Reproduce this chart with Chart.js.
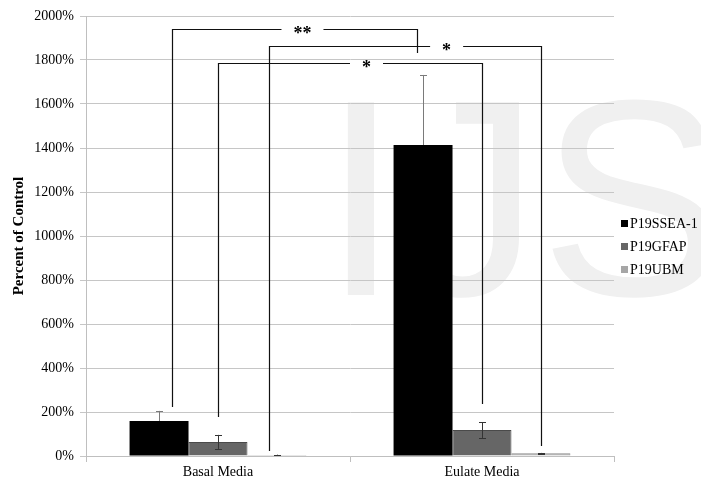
<!DOCTYPE html>
<html>
<head>
<meta charset="utf-8">
<script src="https://cdn.jsdelivr.net/npm/chart.js@4/dist/chart.umd.min.js"></script>
<style>
html,body{margin:0;padding:0;background:#fff;}
#wrap{width:701px;height:483px;position:relative;}
</style>
</head>
<body>
<div id="wrap"><canvas id="c" width="701" height="483"></canvas></div>
<script>
// ---- data ----
const categories = ['Basal Media', 'Eulate Media'];
const seriesNames = ['P19SSEA-1', 'P19GFAP', 'P19UBM'];
const ssea1 = [159, 1414];
const gfap = [64, 118];
const ubm = [5, 12];
const ssea1Err = [46, 318];
const gfapErr = [32, 36];
const ubmErr = [1, 2];
const yTicks = [0, 200, 400, 600, 800, 1000, 1200, 1400, 1600, 1800, 2000];
// significance brackets: x in category units, y in percent
const bracketLabels = ['**', '*', '*'];
const bracketX1 = [-0.175, 0.195, 0.0];
const bracketX2 = [0.755, 1.222, 1.0];
const bracketTop = [1941, 1864, 1786];
const bracketBottom1 = [223, 23, 177];
const bracketBottom2 = [1832, 45, 236];
const bracketLabelX = [0.32, 0.866, 0.5625];

const fillColors = ['#000000', '#666666', '#a6a6a6'];
const borderColors = ['#000000', '#4a4a4a', '#8c8c8c'];
const errColors = ['#7a7a7a', '#333333', '#333333'];
const values = [ssea1, gfap, ubm];
const errors = [ssea1Err, gfapErr, ubmErr];

const SERIF = '"Liberation Serif", "Times New Roman", serif';

const watermark = {
  id: 'watermark',
  beforeDraw(chart) {
    const ctx = chart.ctx;
    const a = chart.chartArea;
    ctx.save();
    ctx.fillStyle = '#f0f0f0';
    ctx.font = '280px "Liberation Sans", Arial, sans-serif';
    ctx.textBaseline = 'alphabetic';
    ctx.textAlign = 'left';
    ctx.fillText('IJS', a.left + 236, a.top + 279);
    ctx.restore();
  }
};

function drawErr(chart, di) {
  const ctx = chart.ctx;
  const ys = chart.scales.y;
  const meta = chart.getDatasetMeta(di);
  ctx.save();
  ctx.lineWidth = 1;
  ctx.strokeStyle = errColors[di];
  meta.data.forEach((bar, i) => {
    const v = values[di][i], e = errors[di][i];
    const x = Math.round(bar.x) + 0.5;
    const yt = ys.getPixelForValue(v + e);
    const yb = ys.getPixelForValue(Math.max(0, v - e));
    ctx.beginPath();
    ctx.moveTo(x, yt); ctx.lineTo(x, yb);
    ctx.moveTo(x - 3.5, Math.round(yt) + 0.5); ctx.lineTo(x + 3.5, Math.round(yt) + 0.5);
    ctx.moveTo(x - 3.5, Math.round(yb) + 0.5); ctx.lineTo(x + 3.5, Math.round(yb) + 0.5);
    ctx.stroke();
  });
  ctx.restore();
}

const errorBars = {
  id: 'errorBars',
  beforeDatasetsDraw(chart) { drawErr(chart, 0); },
  afterDatasetsDraw(chart) { drawErr(chart, 1); drawErr(chart, 2); }
};

const brackets = {
  id: 'brackets',
  afterDatasetsDraw(chart) {
    const ctx = chart.ctx;
    const xs = chart.scales.x, ys = chart.scales.y;
    ctx.save();
    ctx.strokeStyle = '#111';
    ctx.lineWidth = 1.2;
    ctx.font = 'bold 18px ' + SERIF;
    ctx.textAlign = 'center';
    ctx.textBaseline = 'alphabetic';
    ctx.fillStyle = '#000';
    bracketLabels.forEach((lab, k) => {
      const x1 = Math.round(xs.getPixelForValue(bracketX1[k])) + 0.5;
      const x2 = Math.round(xs.getPixelForValue(bracketX2[k])) + 0.5;
      const yt = Math.round(ys.getPixelForValue(bracketTop[k])) + 0.5;
      const y1 = ys.getPixelForValue(bracketBottom1[k]);
      const y2 = ys.getPixelForValue(bracketBottom2[k]);
      const lx = xs.getPixelForValue(bracketLabelX[k]);
      const w = ctx.measureText(lab).width;
      const gap = w / 2 + 12;
      ctx.beginPath();
      ctx.moveTo(x1, y1); ctx.lineTo(x1, yt); ctx.lineTo(lx - gap, yt);
      ctx.moveTo(lx + gap, yt); ctx.lineTo(x2, yt); ctx.lineTo(x2, y2);
      ctx.stroke();
      ctx.fillText(lab, lx, yt + 9);
    });
    ctx.restore();
  }
};

const customLegend = {
  id: 'customLegend',
  afterDraw(chart) {
    const ctx = chart.ctx;
    const a = chart.chartArea;
    const mid = (a.top + a.bottom) / 2 + 11;
    ctx.save();
    ctx.font = '14px ' + SERIF;
    ctx.textBaseline = 'middle';
    ctx.textAlign = 'left';
    seriesNames.forEach((n, i) => {
      const cy = mid + (i - 1) * 23;
      ctx.fillStyle = fillColors[i];
      ctx.fillRect(a.right + 7, Math.round(cy - 4), 7, 7);
      ctx.fillStyle = '#000';
      ctx.fillText(n, a.right + 16, cy + 0.5);
    });
    ctx.restore();
  }
};

new Chart(document.getElementById('c'), {
  type: 'bar',
  data: {
    labels: categories,
    datasets: seriesNames.map((n, i) => ({
      label: n,
      data: values[i],
      backgroundColor: fillColors[i],
      borderColor: borderColors[i],
      borderWidth: i === 0 ? 0 : 1,
      categoryPercentage: 0.67,
      barPercentage: 1.0
    }))
  },
  options: {
    responsive: false,
    animation: false,
    devicePixelRatio: 1,
    layout: { padding: { top: 16, right: 87, left: 0, bottom: 0 } },
    plugins: { legend: { display: false }, tooltip: { enabled: false } },
    scales: {
      x: {
        offset: true,
        grid: { drawOnChartArea: false, drawTicks: true, tickLength: 6, color: '#bfbfbf', offset: true },
        border: { display: true, color: '#bfbfbf' },
        ticks: { color: '#000', font: { family: SERIF, size: 14 }, padding: 2 },
        afterFit(s) { s.height = 27; }
      },
      y: {
        min: 0, max: 2000,
        afterBuildTicks(s) { s.ticks = yTicks.map(v => ({ value: v })); },
        grid: { color: '#c6c6c6', tickLength: 6 },
        border: { display: true, color: '#bfbfbf' },
        ticks: { color: '#000', font: { family: SERIF, size: 14 }, padding: 6, callback: v => v + '%' },
        title: { display: true, text: 'Percent of Control', color: '#000', font: { family: SERIF, size: 15, weight: 'bold' }, padding: { top: 10, bottom: 0 } },
        afterFit(s) { s.width = 86; }
      }
    }
  },
  plugins: [watermark, errorBars, brackets, customLegend]
});
</script>
</body>
</html>
